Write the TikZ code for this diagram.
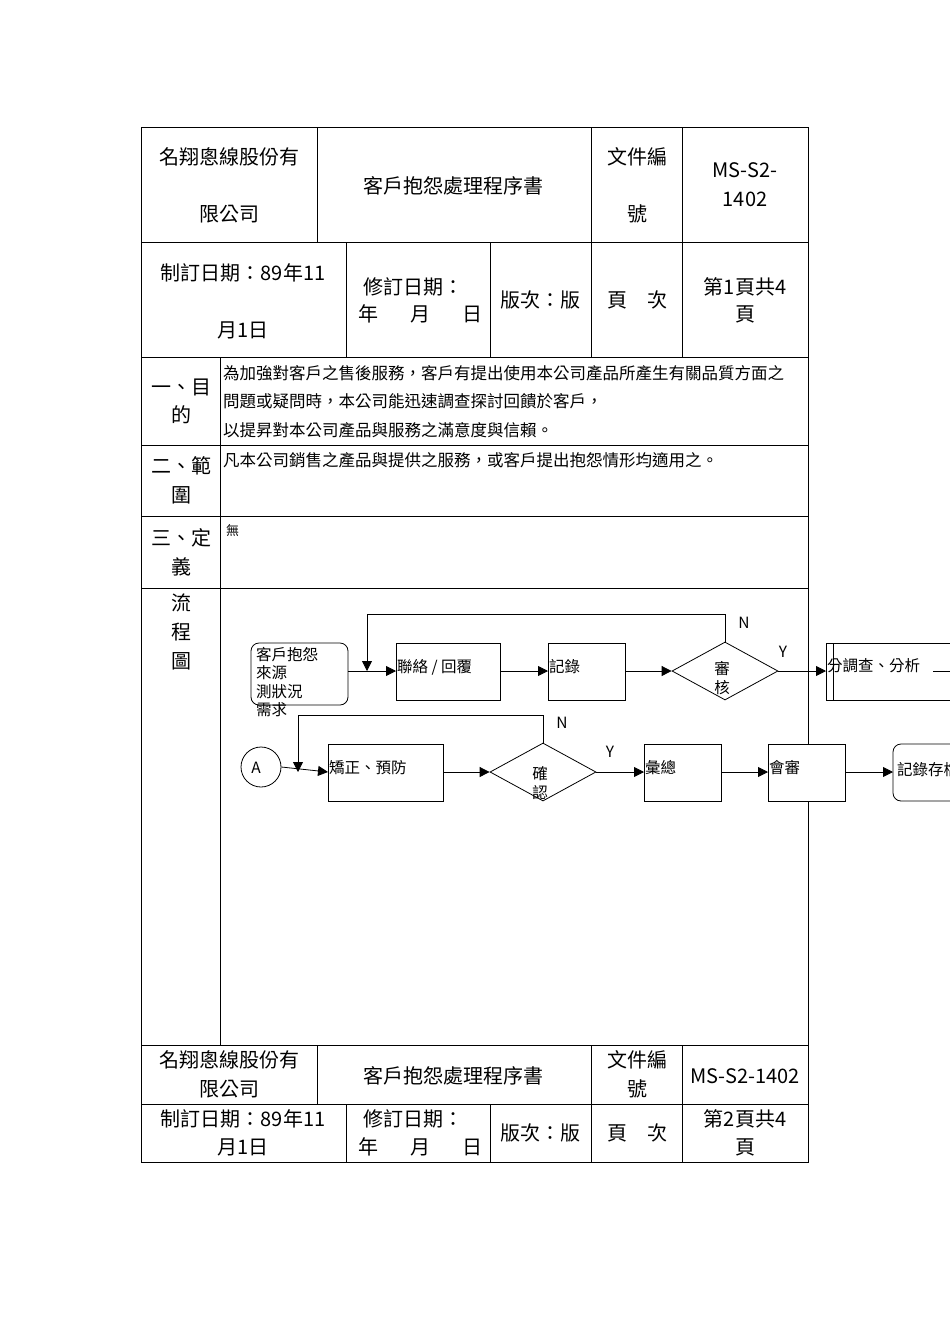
\documentclass[tikz,border=0pt]{standalone}
\usepackage{fontspec}
\setmainfont{Noto Sans CJK TC}
\usetikzlibrary{shapes.geometric,arrows.meta}
\begin{document}
\begin{tikzpicture}[x=1pt,y=-1pt,
 t/.style={inner sep=0pt,font=\fontsize{20}{24}\selectfont},
 s/.style={inner sep=0pt,font=\fontsize{16.5}{19}\selectfont},
 f/.style={inner sep=0pt,font=\fontsize{15.5}{18.5}\selectfont},
 bx/.style={draw,fill=white,line width=0.8pt,minimum width=#1,minimum height=57pt,inner sep=1pt,anchor=north west},
 dm/.style={draw,fill=white,line width=0.8pt,diamond,minimum width=106pt,minimum height=58pt,inner sep=0pt,aspect=1.8},
 ar/.style={line width=0.8pt,-{Triangle[length=10pt,width=10pt]}},
 ln/.style={line width=0.8pt}]
\useasboundingbox (0,0) rectangle (950,1344);
\clip (0,0) rectangle (950,1344);
\fill[white] (0,0) rectangle (950,1344);
% table
\begin{scope}[line width=0.5pt]
\draw (141,127) rectangle (808,1162);
\foreach \y in {242,357,445,516,588,1045,1104} \draw (141,\y)--(808,\y);
\foreach \x in {317,591,682} {\draw (\x,127)--(\x,242); \draw (\x,1045)--(\x,1104);}
\foreach \x in {346,490,591,682} {\draw (\x,242)--(\x,357); \draw (\x,1104)--(\x,1162);}
\draw (220,357)--(220,1045);
\end{scope}
% header
\node[t] (h1) at (229,157) {名翔悤線股份有};
\node[t] (h2) at (229,214) {限公司};
\node[t] (h3) at (453,186) {客戶抱怨處理程序書};
\node[t] (h4) at (637,157) {文件編};
\node[t] (h5) at (637,214) {號};
\node[t] (h6) at (745,170) {MS-S2-};
\node[t] (h7) at (745,199) {1402};
\node[t] (r1) at (243,273) {制訂日期：89年11};
\node[t] (r2) at (243,330) {月1日};
\node[t] (r3) at (413,287) {修訂日期：};
\node[t] (r4) at (420,314) {年\hspace{1.6em}月\hspace{1.6em}日};
\node[t] (r5) at (540,300) {版次：版};
\node[t] (r6) at (637,300) {頁\hspace{1em}次};
\node[t] (r7) at (745,287) {第1頁共4};
\node[t] (r8) at (745,314) {頁};
% sections
\node[t] (a1) at (181,387) {一、目};
\node[t] (a2) at (181,415) {的};
\node[s,anchor=west] (a3) at (223,373) {為加強對客戶之售後服務，客戶有提出使用本公司產品所產生有關品質方面之};
\node[s,anchor=west] (a4) at (223,401) {問題或疑問時，本公司能迅速調查探討回饋於客戶，};
\node[s,anchor=west] (a5) at (223,430) {以提昇對本公司產品與服務之滿意度與信賴。};
\node[t] (b1) at (181,466) {二、範};
\node[t] (b2) at (181,495) {圍};
\node[s,anchor=west] (b3) at (223,460) {凡本公司銷售之產品與提供之服務，或客戶提出抱怨情形均適用之。};
\node[t] (c1) at (181,538) {三、定};
\node[t] (c2) at (181,567) {義};
\node[f,anchor=west,font=\fontsize{13}{15}\selectfont] (c3) at (226,531) {無};
\node[t] (d1) at (181,603) {流};
\node[t] (d2) at (181,632) {程};
\node[t] (d3) at (181,661) {圖};
% flowchart row 1
\draw[ln,fill=white,rounded corners=8pt] (251,643) rectangle (348,705);
\node[f,anchor=north west,align=left] (src) at (256,647) {客戶抱怨\\來源\\測狀況\\需求};
\coordinate (srcE) at (348,671);
\node[bx=104pt] (lx) at (396,643) {};
\node[f,anchor=west] at (397,667) {聯絡 / 回覆};
\node[bx=77pt] (jl) at (548,643) {};
\node[f,anchor=west] at (549,667) {記錄};
\node[dm] (sh) at (725,671) {};
\node[f,align=center] at (722,678) {審\\核};
\draw[ln,fill=white] (826,643) rectangle (960,700);
\draw[ln] (833,643)--(833,700);
\node[f,anchor=west] (dc) at (827,666) {分調查、分析};
\draw[ln] (933,671)--(950,671);
\draw[ar] (srcE)--(lx.west |- srcE);
\draw[ar] (lx.east |- srcE)--(jl.west |- srcE);
\draw[ar] (jl.east |- srcE)--(sh.west);
\draw[ar] (sh.east)--(826,671);
\coordinate (n1) at (367,671);
\draw[ar] (sh.north)--(725,614)--(367,614)--(n1);
\node[f] at (744,623) {N};
\node[f] at (783,652) {Y};
% row 2
\node[draw,circle,line width=0.8pt,minimum size=40pt,inner sep=0pt] (A) at (261,767) {};
\node[f] at (256,768) {A};
\node[bx=115pt] (jz) at (328,744) {};
\node[f,anchor=west] at (329,768) {矯正、預防};
\node[dm] (qr) at (543,772) {};
\node[f,align=center] at (540,783) {確\\認};
\node[bx=77pt] (hz) at (644,744) {};
\node[f,anchor=west] at (645,768) {彙總};
\node[bx=77pt] (hs) at (768,744) {};
\node[f,anchor=west] at (769,768) {會審};
\draw[ln,fill=white,rounded corners=8pt] (893,744) rectangle (970,801);
\node[f,anchor=west] (cd) at (897,770) {記錄存檔};
\coordinate (rowY) at (0,772);
\draw[ar] (A.east)--(jz.west |- rowY);
\draw[ar] (jz.east |- rowY)--(qr.west);
\draw[ar] (qr.east)--(hz.west |- rowY);
\draw[ar] (hz.east |- rowY)--(hs.west |- rowY);
\draw[ar] (hs.east |- rowY)--(893,772);
\coordinate (n2) at (298,772);
\draw[ar] (qr.north)--(543,715)--(298,715)--(n2);
\node[f] at (562,723) {N};
\node[f] at (610,752) {Y};
% footer
\node[t] (g1) at (229,1060) {名翔悤線股份有};
\node[t] (g2) at (229,1089) {限公司};
\node[t] (g3) at (453,1076) {客戶抱怨處理程序書};
\node[t] (g4) at (637,1060) {文件編};
\node[t] (g5) at (637,1089) {號};
\node[t] (g6) at (745,1076) {MS-S2-1402};
\node[t] (k1) at (243,1119) {制訂日期：89年11};
\node[t] (k2) at (243,1147) {月1日};
\node[t] (k3) at (413,1119) {修訂日期：};
\node[t] (k4) at (420,1147) {年\hspace{1.6em}月\hspace{1.6em}日};
\node[t] (k5) at (540,1133) {版次：版};
\node[t] (k6) at (637,1133) {頁\hspace{1em}次};
\node[t] (k7) at (745,1119) {第2頁共4};
\node[t] (k8) at (745,1147) {頁};
\end{tikzpicture}
\end{document}
